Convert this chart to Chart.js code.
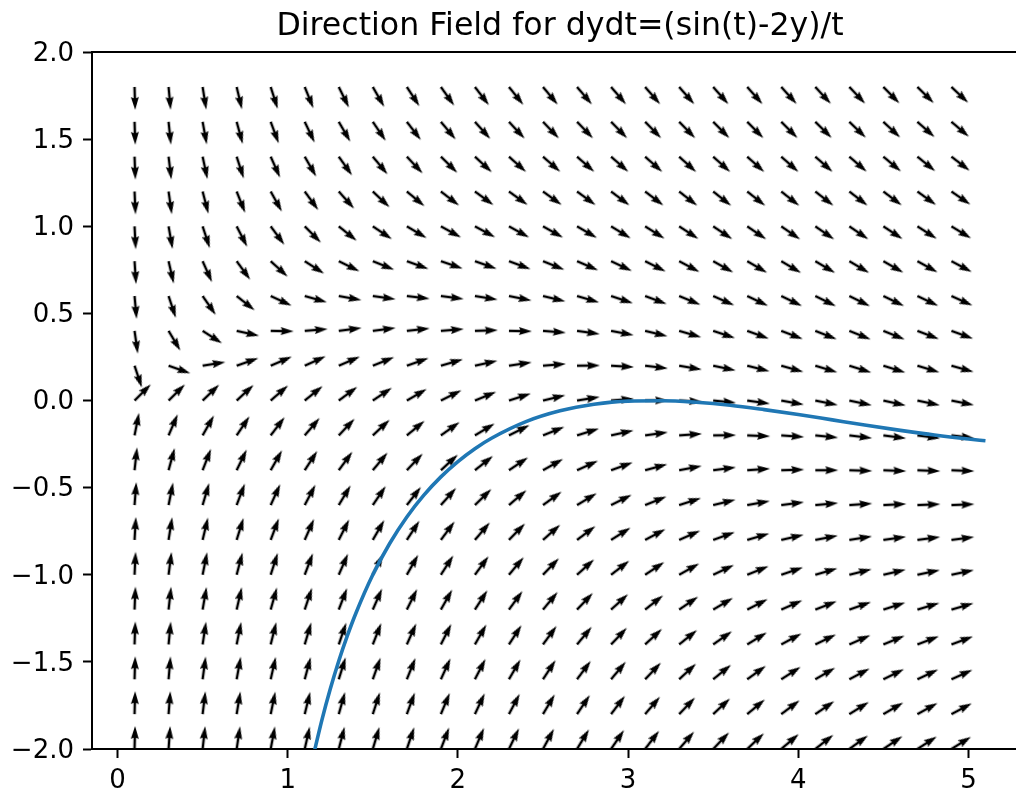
<!DOCTYPE html>
<html>
<head>
<meta charset="utf-8">
<title>Direction field</title>
<script src="https://cdn.jsdelivr.net/npm/chart.js@4.4.1/dist/chart.umd.min.js"></script>
<style>
  html, body { margin: 0; padding: 0; background: #fff; overflow: hidden; }
  /* the axes run a little past the right edge of the picture, so the canvas is wider than the window */
  #wrap { position: relative; width: 1040px; height: 788px; }
</style>
</head>
<body>
<div id="wrap"><canvas id="field"></canvas></div>
<script>
const titleText = 'Direction Field for dydt=(sin(t)-2y)/t';

// grid of arrow tails
const tValues = [0.1, 0.3, 0.5, 0.7, 0.9, 1.1, 1.3, 1.5, 1.7, 1.9, 2.1, 2.3, 2.5,
                 2.7, 2.9, 3.1, 3.3, 3.5, 3.7, 3.9, 4.1, 4.3, 4.5, 4.7, 4.9];
const yValues = [-2.0, -1.8, -1.6, -1.4, -1.2, -1.0, -0.8, -0.6, -0.4, -0.2,
                 0.0, 0.2, 0.4, 0.6, 0.8, 1.0, 1.2, 1.4, 1.6, 1.8];

// slope dy/dt shown by each arrow, one list per t column, bottom row first
const slopeByColumn = [
  [41.0, 37.0, 33.0, 29.0, 25.0, 21.0, 17.0, 13.0, 9.0, 5.0, 1.0, -3.0, -7.0, -11.0, -15.0, -19.0, -23.0, -27.0, -31.0, -35.0],
  [14.32, 12.99, 11.65, 10.32, 8.99, 7.65, 6.32, 4.99, 3.65, 2.32, 0.99, -0.35, -1.68, -3.02, -4.35, -5.68, -7.02, -8.35, -9.68, -11.02],
  [8.96, 8.16, 7.36, 6.56, 5.76, 4.96, 4.16, 3.36, 2.56, 1.76, 0.96, 0.16, -0.64, -1.44, -2.24, -3.04, -3.84, -4.64, -5.44, -6.24],
  [6.63, 6.06, 5.49, 4.92, 4.35, 3.78, 3.21, 2.63, 2.06, 1.49, 0.92, 0.35, -0.22, -0.79, -1.37, -1.94, -2.51, -3.08, -3.65, -4.22],
  [5.31, 4.87, 4.43, 3.98, 3.54, 3.09, 2.65, 2.20, 1.76, 1.31, 0.87, 0.43, -0.02, -0.46, -0.91, -1.35, -1.80, -2.24, -2.69, -3.13],
  [4.45, 4.08, 3.72, 3.36, 2.99, 2.63, 2.26, 1.90, 1.54, 1.17, 0.81, 0.45, 0.08, -0.28, -0.64, -1.01, -1.37, -1.74, -2.10, -2.46],
  [3.82, 3.51, 3.20, 2.90, 2.59, 2.28, 1.97, 1.66, 1.36, 1.05, 0.74, 0.43, 0.13, -0.18, -0.49, -0.80, -1.11, -1.41, -1.72, -2.03],
  [3.33, 3.07, 2.80, 2.53, 2.27, 2.00, 1.73, 1.47, 1.20, 0.93, 0.67, 0.40, 0.13, -0.14, -0.40, -0.67, -0.94, -1.20, -1.47, -1.74],
  [2.94, 2.70, 2.47, 2.23, 2.00, 1.76, 1.52, 1.29, 1.05, 0.82, 0.58, 0.35, 0.11, -0.12, -0.36, -0.59, -0.83, -1.06, -1.30, -1.53],
  [2.60, 2.39, 2.18, 1.97, 1.76, 1.55, 1.34, 1.13, 0.92, 0.71, 0.50, 0.29, 0.08, -0.13, -0.34, -0.55, -0.77, -0.98, -1.19, -1.40],
  [2.32, 2.13, 1.93, 1.74, 1.55, 1.36, 1.17, 0.98, 0.79, 0.60, 0.41, 0.22, 0.03, -0.16, -0.35, -0.54, -0.73, -0.92, -1.11, -1.30],
  [2.06, 1.89, 1.72, 1.54, 1.37, 1.19, 1.02, 0.85, 0.67, 0.50, 0.32, 0.15, -0.02, -0.20, -0.37, -0.55, -0.72, -0.89, -1.07, -1.24],
  [1.84, 1.68, 1.52, 1.36, 1.20, 1.04, 0.88, 0.72, 0.56, 0.40, 0.24, 0.08, -0.08, -0.24, -0.40, -0.56, -0.72, -0.88, -1.04, -1.20],
  [1.64, 1.49, 1.34, 1.20, 1.05, 0.90, 0.75, 0.60, 0.45, 0.31, 0.16, 0.01, -0.14, -0.29, -0.43, -0.58, -0.73, -0.88, -1.03, -1.17],
  [1.46, 1.32, 1.19, 1.05, 0.91, 0.77, 0.63, 0.50, 0.36, 0.22, 0.08, -0.06, -0.19, -0.33, -0.47, -0.61, -0.75, -0.88, -1.02, -1.16],
  [1.30, 1.17, 1.05, 0.92, 0.79, 0.66, 0.53, 0.40, 0.27, 0.14, 0.01, -0.12, -0.24, -0.37, -0.50, -0.63, -0.76, -0.89, -1.02, -1.15],
  [1.16, 1.04, 0.92, 0.80, 0.68, 0.56, 0.44, 0.32, 0.19, 0.07, -0.05, -0.17, -0.29, -0.41, -0.53, -0.65, -0.78, -0.90, -1.02, -1.14],
  [1.04, 0.93, 0.81, 0.70, 0.59, 0.47, 0.36, 0.24, 0.13, 0.01, -0.10, -0.21, -0.33, -0.44, -0.56, -0.67, -0.79, -0.90, -1.01, -1.13],
  [0.94, 0.83, 0.72, 0.61, 0.51, 0.40, 0.29, 0.18, 0.07, -0.04, -0.14, -0.25, -0.36, -0.47, -0.58, -0.68, -0.79, -0.90, -1.01, -1.12],
  [0.85, 0.75, 0.64, 0.54, 0.44, 0.34, 0.23, 0.13, 0.03, -0.07, -0.18, -0.28, -0.38, -0.48, -0.59, -0.69, -0.79, -0.89, -1.00, -1.10],
  [0.78, 0.68, 0.58, 0.48, 0.39, 0.29, 0.19, 0.09, 0.00, -0.10, -0.20, -0.30, -0.39, -0.49, -0.59, -0.69, -0.78, -0.88, -0.98, -1.08],
  [0.72, 0.62, 0.53, 0.44, 0.35, 0.25, 0.16, 0.07, -0.03, -0.12, -0.21, -0.31, -0.40, -0.49, -0.59, -0.68, -0.77, -0.86, -0.96, -1.05],
  [0.67, 0.58, 0.49, 0.41, 0.32, 0.23, 0.14, 0.05, -0.04, -0.13, -0.22, -0.31, -0.40, -0.48, -0.57, -0.66, -0.75, -0.84, -0.93, -1.02],
  [0.64, 0.55, 0.47, 0.38, 0.30, 0.21, 0.13, 0.04, -0.04, -0.13, -0.21, -0.30, -0.38, -0.47, -0.55, -0.64, -0.72, -0.81, -0.89, -0.98],
  [0.62, 0.53, 0.45, 0.37, 0.29, 0.21, 0.13, 0.04, -0.04, -0.12, -0.20, -0.28, -0.36, -0.45, -0.53, -0.61, -0.69, -0.77, -0.85, -0.94]
];

// solution curve (blue)
const curveT = [1.15, 1.2, 1.25, 1.3, 1.35, 1.4, 1.5, 1.6, 1.7, 1.8, 1.9, 2.0, 2.1, 2.2,
                2.4, 2.6, 2.8, 3.0, 3.2, 3.4, 3.6, 3.8, 4.0, 4.2, 4.4, 4.6, 4.8, 5.0, 5.1];
const curveY = [-2.041, -1.837, -1.656, -1.495, -1.351, -1.222, -1.000, -0.819, -0.668, -0.543,
                -0.438, -0.350, -0.276, -0.215, -0.121, -0.059, -0.021, -0.003, -0.001, -0.010,
                -0.027, -0.052, -0.080, -0.111, -0.142, -0.171, -0.198, -0.221, -0.231];

const xTicks = [0, 1, 2, 3, 4, 5];
const yTicks = [-2.0, -1.5, -1.0, -0.5, 0.0, 0.5, 1.0, 1.5, 2.0];

// quiver style arrow; the tail sits at the canvas centre so the point rotation pivots on it
function makeArrow() {
  const len = 23, w = 2.6;
  const size = 2 * (len + 2);
  const c = document.createElement('canvas');
  c.width = size;
  c.height = size;
  const g = c.getContext('2d');
  const cx = size / 2, cy = size / 2;
  g.fillStyle = '#000';
  g.beginPath();
  g.moveTo(cx, cy - w / 2);
  g.lineTo(cx + len - 4.5 * w, cy - w / 2);
  g.lineTo(cx + len - 5 * w, cy - 1.5 * w);
  g.lineTo(cx + len, cy);
  g.lineTo(cx + len - 5 * w, cy + 1.5 * w);
  g.lineTo(cx + len - 4.5 * w, cy + w / 2);
  g.lineTo(cx, cy + w / 2);
  g.closePath();
  g.fill();
  return c;
}

const arrowPoints = [];
const arrowRotation = [];
tValues.forEach((t, c) => {
  yValues.forEach((y, r) => {
    arrowPoints.push({ x: t, y: y });
    arrowRotation.push(-Math.atan(slopeByColumn[c][r]) * 180 / Math.PI);
  });
});

const tickFont = { family: 'DejaVu Sans', size: 26 };
const axisGrid = { drawOnChartArea: false, drawTicks: true, tickLength: 9, tickWidth: 2, tickColor: '#000' };
const axisBorder = { color: '#000', width: 2 };

new Chart(document.getElementById('field'), {
  type: 'scatter',
  data: {
    datasets: [
      {
        data: curveT.map((t, i) => ({ x: t, y: curveY[i] })),
        showLine: true,
        borderColor: '#1f77b4',
        borderWidth: 3.6,
        pointRadius: 0,
        cubicInterpolationMode: 'monotone',
        clip: 0
      },
      {
        data: arrowPoints,
        pointStyle: makeArrow(),
        rotation: arrowRotation,
        pointRadius: 2,
        showLine: false
      }
    ]
  },
  options: {
    responsive: true,
    maintainAspectRatio: false,
    animation: false,
    events: [],
    layout: { padding: { left: 0, right: 12, top: 0, bottom: 0 } },
    plugins: {
      legend: { display: false },
      tooltip: { enabled: false },
      title: {
        display: true,
        text: titleText,
        fullSize: false,
        color: '#000',
        font: { family: 'DejaVu Sans', size: 31.6, weight: 'normal' },
        padding: { top: 7.5, bottom: 6.7 }
      }
    },
    scales: {
      x: {
        type: 'linear',
        position: 'bottom',
        min: -0.15,
        max: 5.35,
        afterBuildTicks: s => { s.ticks = xTicks.map(v => ({ value: v })); },
        afterFit: s => { s.height = 39; },
        grid: axisGrid,
        border: axisBorder,
        ticks: { color: '#000', font: tickFont, padding: 8, maxRotation: 0, autoSkip: false }
      },
      xTop: {
        type: 'linear',
        position: 'top',
        min: -0.15,
        max: 5.35,
        afterFit: s => { s.height = 0; },
        grid: { drawOnChartArea: false, drawTicks: false },
        border: axisBorder,
        ticks: { display: false }
      },
      y: {
        type: 'linear',
        position: 'left',
        min: -2,
        max: 2,
        afterBuildTicks: s => { s.ticks = yTicks.map(v => ({ value: v })); },
        afterFit: s => { s.width = 92; },
        grid: axisGrid,
        border: axisBorder,
        ticks: {
          color: '#000',
          font: tickFont,
          padding: 9,
          labelOffset: 2,
          autoSkip: false,
          callback: v => v.toFixed(1).replace('-', '\u2212')
        }
      }
    }
  }
});
</script>
</body>
</html>
